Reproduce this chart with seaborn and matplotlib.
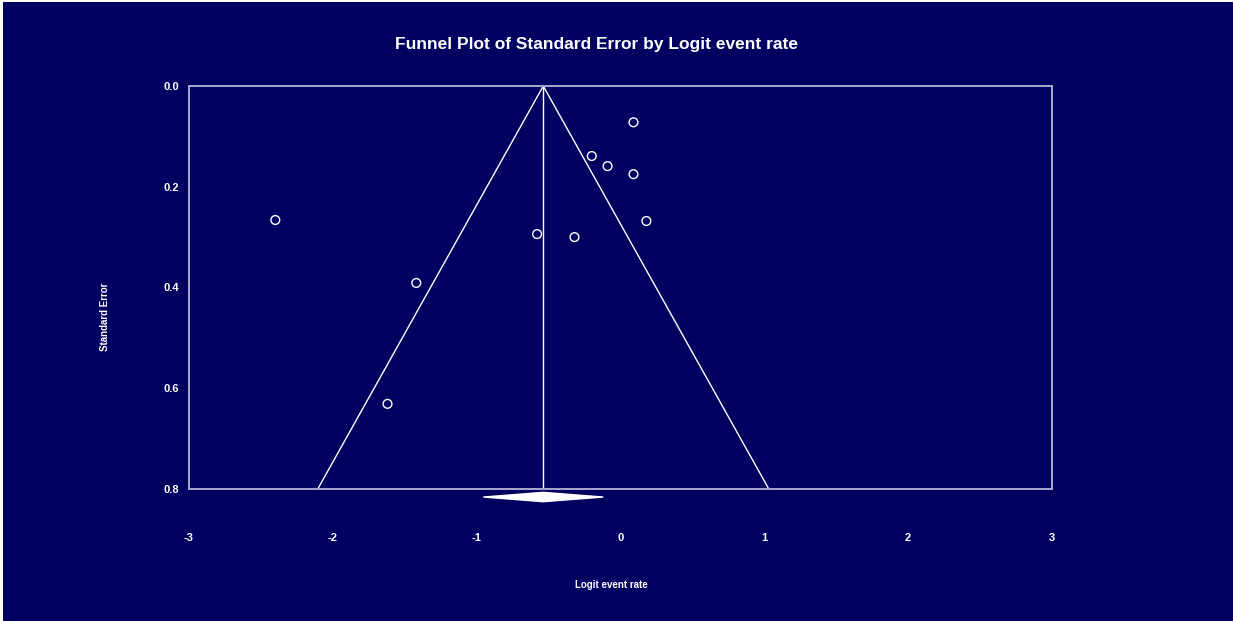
import numpy as np
import pandas as pd
import seaborn as sns
import matplotlib.pyplot as plt
from matplotlib.patches import Rectangle

# study effects
logit_rate = [-2.40, -1.42, -1.62, -0.58, -0.32, 0.09, -0.20, -0.09, 0.09, 0.18]
std_error = [0.266, 0.391, 0.631, 0.294, 0.300, 0.072, 0.139, 0.159, 0.175, 0.268]

# pooled estimate and its CI (diamond)
pooled_mean = -0.537
pooled_low = -0.954
pooled_high = -0.120
se_max = 0.8

x_ticks = [-3, -2, -1, 0, 1, 2, 3]
y_ticks = [0.0, 0.2, 0.4, 0.6, 0.8]

bg = "#000060"
spine_col = "#a8a8d0"

sns.set_style("white")
plt.rcParams['font.family'] = ['Liberation Sans', 'DejaVu Sans']

df = pd.DataFrame({"logit": logit_rate, "se": std_error})

fig = plt.figure(figsize=(12.33, 6.21), dpi=100)
fig.patch.set_facecolor(bg)
ax = fig.add_axes([0.1533, 0.2126, 0.6999, 0.6489])
ax.set_facecolor(bg)

# funnel
se_line = np.array([0, se_max])
ax.plot([pooled_mean, pooled_mean], [0, se_max], color="white", lw=1.0, zorder=2)
ax.plot(pooled_mean - 1.96 * se_line, se_line, color="white", lw=1.0, zorder=2)
ax.plot(pooled_mean + 1.96 * se_line, se_line, color="white", lw=1.0, zorder=2)

sns.scatterplot(data=df, x="logit", y="se", ax=ax, marker="o", s=40,
                facecolor="none", edgecolor="white", linewidth=1.0, zorder=3)

# diamond below the axis
dy = 0.0093
yd = 0.816
ax.fill([pooled_low, pooled_mean, pooled_high, pooled_mean],
        [yd, yd - dy, yd, yd + dy], color="white", clip_on=False, zorder=4)

ax.set_xlim(-3, 3)
ax.set_ylim(0.8, 0.0)
ax.set_xticks(x_ticks)
ax.set_yticks(y_ticks)
ax.set_xticklabels([str(t) for t in x_ticks])
ax.set_yticklabels([f"{t:.1f}" for t in y_ticks])

for sp in ax.spines.values():
    sp.set_visible(True)
    sp.set_color(spine_col)
    sp.set_linewidth(1.4)

ax.tick_params(axis="x", direction="inout", length=5, width=1.2,
               colors="white", labelsize=8, pad=29)
ax.tick_params(axis="y", direction="in", length=3, width=1.2,
               colors="white", labelsize=8, pad=7)
ax.tick_params(axis="x", color=spine_col)
ax.tick_params(axis="y", color=spine_col)
for lbl in ax.get_xticklabels() + ax.get_yticklabels():
    lbl.set_fontweight("bold")

ax.set_xlabel("")
ax.set_ylabel("")
fig.text(611 / 1233, 1 - 585 / 621, "Logit event rate", color="white", fontsize=7,
         fontweight="bold", ha="center", va="center")
fig.text(105 / 1233, 1 - 317 / 621, "Standard Error", color="white", fontsize=7,
         fontweight="bold", ha="center", va="center", rotation=90)
fig.text(596.5 / 1233, 1 - 45 / 621, "Funnel Plot of Standard Error by Logit event rate",
         color="white", fontsize=12.5, fontweight="bold", ha="center", va="center")

# thin white frame at the left and top edge
fig.add_artist(Rectangle((0, 0), 2.5 / 1233, 1, transform=fig.transFigure,
                         color="white", lw=0))
fig.add_artist(Rectangle((0, 1 - 2 / 621), 1, 2 / 621, transform=fig.transFigure,
                         color="white", lw=0))

fig.savefig("out.png", dpi=100, facecolor=bg)
